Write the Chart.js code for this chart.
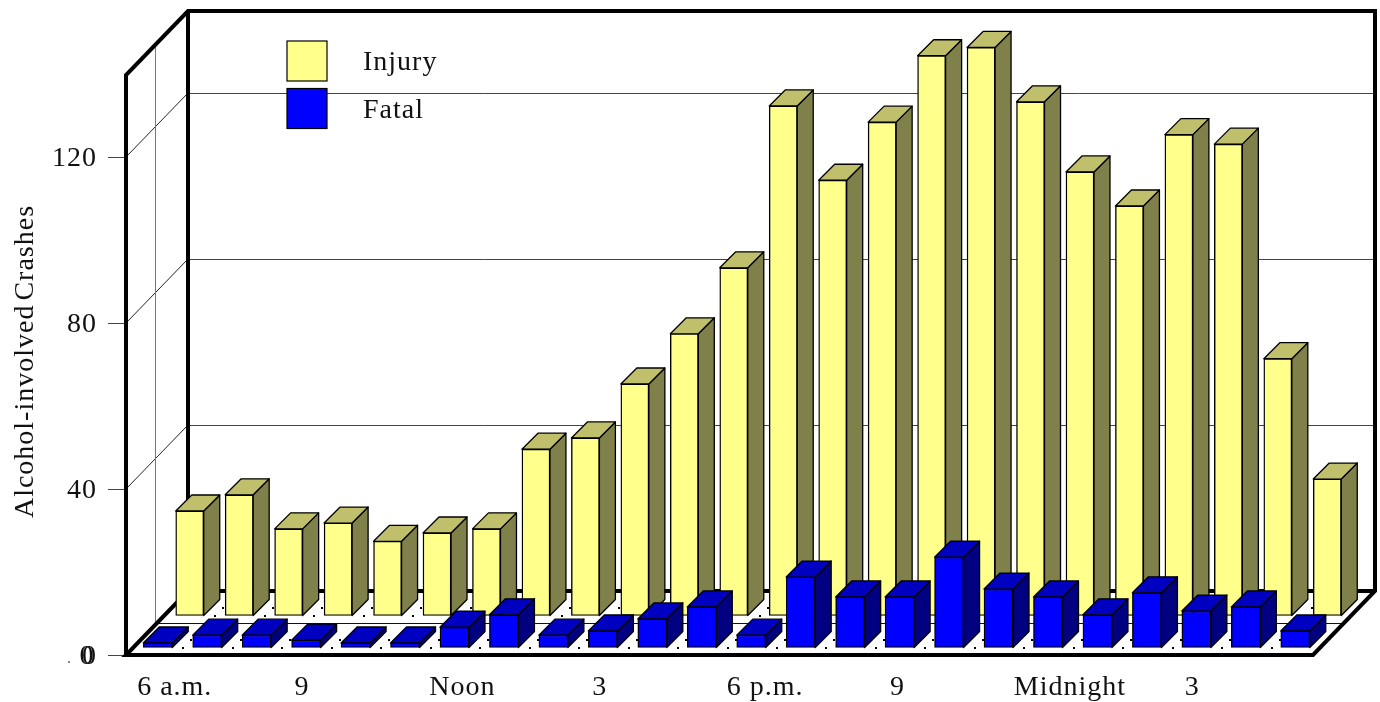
<!DOCTYPE html>
<html>
<head>
<meta charset="utf-8">
<style>html,body{margin:0;padding:0;background:#fff}canvas{display:block}</style>
<script src="https://cdn.jsdelivr.net/npm/chart.js@4"></script>
</head>
<body>
<canvas id="c" width="1380" height="702"></canvas>
<script>
const hours = ['6 a.m.','7 a.m.','8 a.m.','9 a.m.','10 a.m.','11 a.m.','Noon','1 p.m.','2 p.m.','3 p.m.','4 p.m.','5 p.m.','6 p.m.','7 p.m.','8 p.m.','9 p.m.','10 p.m.','11 p.m.','Midnight','1 a.m.','2 a.m.','3 a.m.','4 a.m.','5 a.m.'];
const injury = [25.3,29.2,21,22.4,18,20,21,40.2,42.9,55.9,68,83.9,122.9,105,119,135,137,123.9,107,98.8,116,113.7,62,33];
const fatal = [1.2,3.1,3.1,1.9,1.2,1.2,5,8,3.1,4.1,7,9.9,3.1,17.1,12.3,12.3,21.9,14.2,12.3,8,13.3,8.9,9.9,4.1];
const tickLabels = ['6 a.m.','9','Noon','3','6 p.m.','9','Midnight','3'];
const labelNudge = [24,3,15,4,21,5,29,3];
const valueTicks = [0,40,80,120];

const FONT = '"Liberation Serif", "Times New Roman", serif';
const INK = '#111';
const DEPTH = 62, DEPTH_Y = 64;

const faces = {
  Injury: {dx:39, dy:39, d:16, front:'#FFFF8C', side:'#80804A', top:'#C0C06C'},
  Fatal:  {dx:7,  dy:7,  d:16, front:'#0000FF', side:'#000080', top:'#0000C0'}
};

function line(ctx, pts, width, color){
  ctx.beginPath();
  pts.forEach((p,i)=> i ? ctx.lineTo(p[0],p[1]) : ctx.moveTo(p[0],p[1]));
  ctx.lineWidth = width; ctx.strokeStyle = color; ctx.stroke();
}

const box3d = {
  id:'box3d',
  beforeDraw(chart){
    const ctx = chart.ctx;
    ctx.fillStyle = '#fff';
    ctx.fillRect(0,0,chart.width,chart.height);
    ctx.letterSpacing = '1px';
    const xs = chart.scales.x, ys = chart.scales.y;
    if (!xs.nudged){
      xs.nudged = true;
      xs.getLabelItems().forEach((item,i)=>{
        if (i%3===0) item.options.translation[0] += labelNudge[i/3];
      });
      ys.getLabelItems().forEach(item=>{ item.options.translation[1] += 2; });
      const drawTitle = ys.drawTitle;
      ys.drawTitle = function(){
        ctx.save();
        ctx.wordSpacing = '-4px';
        ctx.translate(0,-3);
        drawTitle.call(this);
        ctx.restore();
      };
    }
  },
  beforeDatasetsDraw(chart){
    const ctx = chart.ctx, a = chart.chartArea, ys = chart.scales.y, xs = chart.scales.x;
    const L=a.left, R=a.right, B=a.bottom, T=a.top;
    ctx.save();
    ctx.lineJoin='miter';
    valueTicks.slice(1).forEach(v=>{
      const y = ys.getPixelForValue(v);
      line(ctx,[[L,y],[L+DEPTH,y-DEPTH_Y]],1,'#222');
      line(ctx,[[L+DEPTH,Math.round(y-DEPTH_Y)+.5],[R+DEPTH,Math.round(y-DEPTH_Y)+.5]],1,'#444');
    });
    line(ctx,[[L+29.5,B-610],[L+29.5,B-32]],1,'#777');
    line(ctx,[[L+29.5,B-31.5],[R+31,B-31.5]],1.2,'#111');
    ctx.fillStyle='#000';
    for (let i=0;i<hours.length-1;i++){
      const b = (xs.getPixelForTick(i)+xs.getPixelForTick(i+1))/2;
      [7,15,39,47].forEach(d=> ctx.fillRect(Math.round(b+d),B-d-1,2,2));
    }
    line(ctx,[[L+DEPTH,B-DEPTH_Y],[R+DEPTH,B-DEPTH_Y]],4,'#000');
    line(ctx,[[L+DEPTH,T-DEPTH_Y+1],[L+DEPTH,B-DEPTH_Y]],4,'#000');
    line(ctx,[[L,B],[L,T+1],[L+DEPTH,T-DEPTH_Y+1],[R+DEPTH,T-DEPTH_Y+1],[R+DEPTH,B-DEPTH_Y],[R,B],[L,B],[L+DEPTH,B-DEPTH_Y]],4,'#000');
    ctx.textBaseline='middle'; ctx.textAlign='left';
    ctx.font='28px '+FONT;
    chart.data.datasets.forEach((ds,i)=>{
      const top = 41+i*47.5;
      ctx.fillStyle = ds.backgroundColor;
      ctx.fillRect(287,top,40,40);
      ctx.lineWidth=1.2; ctx.strokeStyle='#000'; ctx.strokeRect(287,top,40,40);
      ctx.fillStyle=INK;
      ctx.fillText(ds.label,363,top+22);
    });
    ctx.textAlign='right';
    ctx.fillText('0',94.5,ys.getPixelForValue(0)+2);
    ctx.restore();
    ctx.fillStyle='#888'; ctx.fillRect(68,661,2,2);
  },
  beforeDatasetDraw(chart,args){
    const ctx = chart.ctx, ds = chart.data.datasets[args.index], f = faces[ds.label];
    ctx.save();
    ctx.translate(f.dx,-f.dy);
    ctx.lineJoin='round';
    args.meta.data.forEach(el=>{
      const l=el.x-el.width/2, r=el.x+el.width/2, t=el.y, b=el.base, d=f.d;
      ctx.beginPath();
      ctx.moveTo(r,t);ctx.lineTo(r+d,t-d);ctx.lineTo(r+d,b-d);ctx.lineTo(r,b);ctx.closePath();
      ctx.fillStyle=f.side;ctx.fill();ctx.lineWidth=1.3;ctx.strokeStyle='#000';ctx.stroke();
      ctx.beginPath();
      ctx.moveTo(l,t);ctx.lineTo(l+d,t-d);ctx.lineTo(r+d,t-d);ctx.lineTo(r,t);ctx.closePath();
      ctx.fillStyle=f.top;ctx.fill();ctx.stroke();
    });
  },
  afterDatasetDraw(chart){ chart.ctx.restore(); }
};

new Chart(document.getElementById('c'),{
  type:'bar',
  data:{
    labels:hours,
    datasets:[
      {label:'Injury',data:injury,backgroundColor:faces.Injury.front,borderColor:'#000',borderWidth:1.4,borderSkipped:false,barThickness:28,grouped:false,order:2,clip:false},
      {label:'Fatal',data:fatal,backgroundColor:faces.Fatal.front,borderColor:'#000',borderWidth:1.4,borderSkipped:false,barThickness:29,grouped:false,order:1,clip:false}
    ]
  },
  options:{
    responsive:false,
    animation:false,
    layout:{padding:{top:74,right:67,left:0,bottom:0}},
    plugins:{legend:{display:false},tooltip:{enabled:false}},
    scales:{
      x:{
        grid:{display:false},
        border:{display:false},
        afterFit(s){s.height=47;},
        ticks:{
          autoSkip:false,maxRotation:0,minRotation:0,padding:8,color:INK,
          font:{family:FONT,size:28},
          callback(v,i){return i%3===0?tickLabels[i/3]:'';}
        }
      },
      y:{
        min:0,max:140,
        afterBuildTicks(s){s.ticks=valueTicks.map(value=>({value}));},
        afterFit(s){s.width=126;},
        grid:{drawOnChartArea:false,drawTicks:true,tickLength:18,color:'#444',lineWidth:1},
        border:{display:false},
        ticks:{padding:11,color:INK,font:{family:FONT,size:28}},
        title:{display:true,text:'Alcohol-involved Crashes',color:INK,font:{family:FONT,size:28},padding:{top:9,bottom:0}}
      }
    }
  },
  plugins:[box3d]
});
</script>
</body>
</html>
